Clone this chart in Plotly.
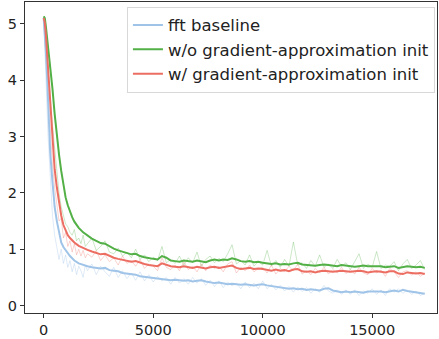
import plotly.graph_objects as go

# ---- data ----
labels = ["fft baseline", "w/o gradient-approximation init", "w/ gradient-approximation init"]
colors = ["rgb(160,196,232)", "rgb(82,176,70)", "rgb(236,110,98)"]
raw_colors = ["rgba(160,196,232,0.35)", "rgba(82,176,70,0.3)", "rgba(236,110,98,0.3)"]

smooth_steps = [0, 50, 100, 150, 200, 250, 300, 400, 500, 600, 700, 800, 900, 1000, 1100,
                1200, 1300, 1400, 1600, 1800] + list(range(2000, 17401, 200))
raw_steps = list(range(0, 2000, 100)) + list(range(2000, 17401, 200))

blue_smooth = [5.10, 4.85, 4.50, 4.10, 3.60, 3.10, 2.70, 2.20, 1.75, 1.50, 1.28, 1.12, 1.04, 0.98, 0.93, 0.88, 0.84, 0.80, 0.75, 0.72,
               0.70, 0.68, 0.67, 0.66, 0.67, 0.63, 0.62, 0.61, 0.58, 0.57,
               0.56, 0.55, 0.52, 0.51, 0.50, 0.49, 0.48, 0.47, 0.47, 0.45,
               0.46, 0.45, 0.44, 0.45, 0.43, 0.44, 0.45, 0.43, 0.42, 0.40,
               0.41, 0.39, 0.38, 0.39, 0.38, 0.37, 0.38, 0.37, 0.36, 0.37,
               0.38, 0.36, 0.35, 0.34, 0.33, 0.31, 0.30, 0.31, 0.29, 0.30,
               0.28, 0.29, 0.28, 0.27, 0.30, 0.31, 0.27, 0.25, 0.24, 0.25,
               0.24, 0.25, 0.24, 0.23, 0.25, 0.25, 0.26, 0.25, 0.24, 0.26,
               0.27, 0.25, 0.28, 0.26, 0.25, 0.24, 0.22, 0.21]
green_smooth = [5.13, 5.10, 4.95, 4.78, 4.60, 4.42, 4.25, 3.85, 3.40, 3.00, 2.68, 2.39, 2.12, 1.92, 1.78, 1.66, 1.57, 1.49, 1.38, 1.30,
                1.24, 1.19, 1.15, 1.11, 1.10, 1.05, 1.01, 0.98, 0.96, 0.93,
                0.91, 0.92, 0.88, 0.86, 0.84, 0.83, 0.82, 0.88, 0.85, 0.80,
                0.79, 0.78, 0.80, 0.79, 0.78, 0.80, 0.79, 0.77, 0.80, 0.82,
                0.80, 0.82, 0.81, 0.84, 0.82, 0.79, 0.78, 0.79, 0.77, 0.78,
                0.76, 0.75, 0.74, 0.75, 0.73, 0.74, 0.73, 0.75, 0.76, 0.73,
                0.72, 0.72, 0.71, 0.72, 0.73, 0.72, 0.71, 0.70, 0.72, 0.71,
                0.70, 0.69, 0.70, 0.71, 0.70, 0.70, 0.69, 0.70, 0.68, 0.69,
                0.70, 0.67, 0.68, 0.70, 0.69, 0.68, 0.69, 0.67]
red_smooth = [5.10, 5.02, 4.80, 4.50, 4.15, 3.78, 3.45, 2.82, 2.42, 2.10, 1.83, 1.60, 1.43, 1.32, 1.25, 1.20, 1.16, 1.12, 1.06, 1.02,
              0.99, 0.96, 0.93, 0.91, 0.92, 0.88, 0.85, 0.83, 0.81, 0.80,
              0.78, 0.79, 0.76, 0.74, 0.72, 0.71, 0.70, 0.75, 0.72, 0.70,
              0.69, 0.68, 0.70, 0.69, 0.67, 0.69, 0.68, 0.66, 0.68, 0.69,
              0.67, 0.68, 0.69, 0.71, 0.67, 0.65, 0.66, 0.67, 0.65, 0.66,
              0.65, 0.63, 0.62, 0.64, 0.62, 0.63, 0.61, 0.64, 0.65, 0.61,
              0.60, 0.61, 0.59, 0.61, 0.62, 0.61, 0.60, 0.61, 0.62, 0.61,
              0.60, 0.61, 0.62, 0.61, 0.59, 0.60, 0.61, 0.60, 0.59, 0.61,
              0.61, 0.57, 0.56, 0.59, 0.58, 0.57, 0.58, 0.56]

blue_raw = [5.10, 3.90, 3.00, 2.30, 1.60, 1.25, 1.00, 0.82, 1.00, 0.75, 0.90, 0.68, 0.80, 0.60, 0.75, 0.55, 0.70, 0.62, 0.50, 0.72,
            0.62, 0.74, 0.55, 0.70, 0.60, 0.52, 0.68, 0.50, 0.62, 0.48,
            0.58, 0.45, 0.60, 0.44, 0.55, 0.42, 0.52, 0.44, 0.50, 0.38,
            0.50, 0.40, 0.48, 0.38, 0.50, 0.40, 0.48, 0.36, 0.45, 0.34,
            0.44, 0.32, 0.42, 0.35, 0.40, 0.30, 0.42, 0.32, 0.40, 0.30,
            0.44, 0.30, 0.38, 0.28, 0.36, 0.26, 0.34, 0.24, 0.33, 0.25,
            0.32, 0.22, 0.30, 0.24, 0.36, 0.26, 0.22, 0.28, 0.20, 0.28,
            0.20, 0.28, 0.18, 0.26, 0.22, 0.30, 0.20, 0.28, 0.18, 0.30,
            0.24, 0.30, 0.22, 0.28, 0.20, 0.26, 0.18, 0.22]
green_raw = [5.13, 4.70, 4.20, 3.70, 3.20, 2.75, 2.30, 2.00, 1.75, 1.60, 1.45, 1.40, 1.30, 1.25, 1.35, 1.15, 1.20, 1.10, 1.25, 1.05,
             1.10, 1.20, 0.98, 1.05, 1.15, 0.95, 0.92, 1.02, 0.88, 0.95,
             0.85, 1.00, 0.82, 0.90, 0.78, 0.86, 0.80, 1.05, 0.76, 0.82,
             0.75, 0.88, 0.72, 0.85, 0.76, 0.95, 0.70, 0.82, 0.88, 0.76,
             0.84, 0.78, 0.92, 1.08, 0.74, 0.80, 0.72, 0.90, 0.70, 0.78,
             0.72, 0.98, 0.70, 0.80, 0.68, 0.82, 0.70, 1.13, 0.72, 0.76,
             0.66, 0.80, 0.70, 0.90, 0.68, 0.74, 0.66, 0.82, 0.70, 0.76,
             0.64, 0.78, 0.92, 0.66, 0.74, 0.68, 0.96, 0.66, 0.72, 0.70,
             0.78, 0.62, 0.74, 0.82, 0.66, 0.72, 0.80, 0.64]
red_raw = [5.10, 4.40, 3.70, 3.00, 2.50, 2.10, 1.75, 1.50, 1.55, 1.20, 1.30, 1.05, 1.15, 0.95, 1.10, 0.90, 1.00, 0.88, 0.98, 0.85,
           0.92, 0.86, 0.98, 0.80, 0.90, 0.78, 0.85, 0.72, 0.88, 0.75,
           0.80, 0.70, 0.82, 0.66, 0.74, 0.70, 0.62, 0.85, 0.68, 0.64,
           0.72, 0.62, 0.78, 0.64, 0.70, 0.60, 0.74, 0.62, 0.72, 0.66,
           0.70, 0.60, 0.74, 0.78, 0.58, 0.68, 0.62, 0.72, 0.60, 0.66,
           0.68, 0.58, 0.72, 0.56, 0.66, 0.60, 0.70, 0.62, 0.74, 0.56,
           0.62, 0.55, 0.66, 0.58, 0.68, 0.56, 0.64, 0.58, 0.68, 0.57,
           0.64, 0.56, 0.68, 0.58, 0.55, 0.66, 0.58, 0.63, 0.52, 0.66,
           0.60, 0.50, 0.60, 0.62, 0.54, 0.60, 0.52, 0.58]

x_ticks = [0, 5000, 10000, 15000]
y_ticks = [0, 1, 2, 3, 4, 5]

smooth = [blue_smooth, green_smooth, red_smooth]
raw = [blue_raw, green_raw, red_raw]

fig = go.Figure()
for i in range(3):
    fig.add_trace(go.Scatter(x=raw_steps, y=raw[i], mode="lines",
                             line=dict(color=raw_colors[i], width=1),
                             showlegend=False, hoverinfo="skip"))
for i in range(3):
    fig.add_trace(go.Scatter(x=smooth_steps, y=smooth[i], mode="lines",
                             line=dict(color=colors[i], width=2),
                             name=labels[i]))

axis_common = dict(showline=True, linecolor="#333333", linewidth=1, mirror=True,
                   ticks="outside", ticklen=4, tickcolor="#333333", showgrid=False,
                   zeroline=False, automargin=False,
                   tickfont=dict(family="DejaVu Sans", size=14.5, color="#222222"))
fig.update_xaxes(range=[-854, 17959], tickvals=x_ticks, ticktext=[str(v) for v in x_ticks], **axis_common)
fig.update_yaxes(range=[-0.13, 5.385], tickvals=y_ticks, ticktext=[str(v) for v in y_ticks], **axis_common)

fig.update_layout(
    width=439, height=339,
    margin=dict(l=25, r=2, t=2, b=26),
    plot_bgcolor="white", paper_bgcolor="white",
    font=dict(family="DejaVu Sans", color="#222222"),
    legend=dict(x=0.995, y=0.985, xanchor="right", yanchor="top",
                bgcolor="rgba(255,255,255,0.8)", bordercolor="#d8d8d8", borderwidth=1,
                font=dict(family="DejaVu Sans", size=16.5, color="#222222"),
                tracegroupgap=0, itemwidth=30),
)

fig.write_html("out.html", config={"displayModeBar": False},
               post_script="document.body.style.margin='0';document.body.style.overflow='hidden';")
